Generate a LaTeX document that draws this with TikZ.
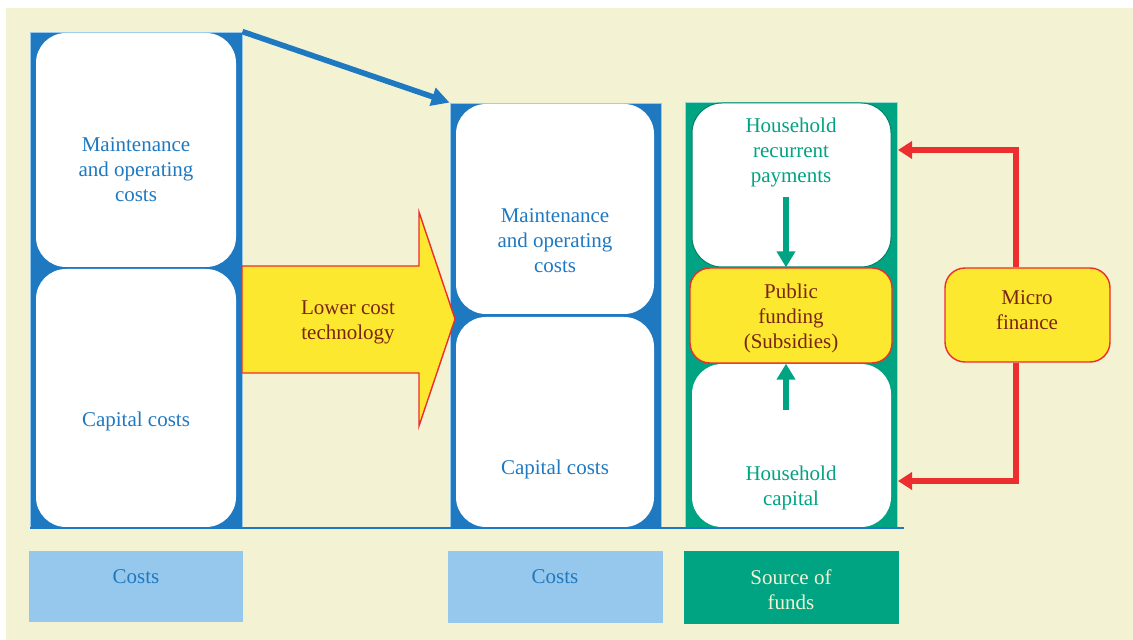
\documentclass[tikz,border=0pt]{standalone}
\usepackage{fontspec}
\setmainfont{Liberation Serif}
\usetikzlibrary{fit,arrows.meta,calc}
\definecolor{cream}{RGB}{243,243,212}
\definecolor{costblue}{RGB}{31,121,193}
\definecolor{paleblue}{RGB}{149,200,236}
\definecolor{fundgreen}{RGB}{0,163,130}
\definecolor{hiyellow}{RGB}{252,232,46}
\definecolor{hired}{RGB}{236,46,46}
\definecolor{darkbrown}{RGB}{122,36,22}

\tikzset{
	card/.style={inner sep=0pt, fill=white, rounded corners=15pt},
	yellowcard/.style={inner sep=0pt, fill=hiyellow, draw=hired, line width=0.7pt, rounded corners=10pt},
	bluetxt/.style={text=costblue, align=center, font=\fontsize{10.5}{12.5}\selectfont},
	greentxt/.style={text=fundgreen, align=center, font=\fontsize{10.5}{12.5}\selectfont},
	browntxt/.style={text=darkbrown, align=center, font=\fontsize{10.5}{12.5}\selectfont},
}

\begin{document}
\begin{tikzpicture}[x=0.5pt, y=-0.5pt]
			%%%%% START %%%%%
			\useasboundingbox (0, 0) rectangle (1133, 640);
			\fill[white] (0, 0) rectangle (1133, 640);
			\fill[cream] (6, 8) rectangle (1133, 640);
			
			% costs columns
			\node[fit={(30, 32) (242, 528)}, inner sep=0pt, fill=costblue, draw=paleblue, line width=0.4pt] (leftcol) {};
			\node[fit={(450, 103) (661, 528)}, inner sep=0pt, fill=costblue, draw=paleblue, line width=0.4pt] (midcol) {};
			\node[fit={(685, 102) (897, 528)}, inner sep=0pt, fill=fundgreen, draw=fundgreen!40, line width=0.4pt] (fundcol) {};
			
			\node[card, fit={(36, 33) (236, 267)}] (leftmaint) {};
			\node[card, fit={(36, 269) (236, 527)}] (leftcap) {};
			\node[card, fit={(456, 104) (654, 314)}] (midmaint) {};
			\node[card, fit={(456, 317) (654, 527)}] (midcap) {};
			\node[card, draw=fundgreen!80!black, line width=0.5pt, fit={(692, 103) (891, 267)}] (hhrec) {};
			\node[card, fit={(692, 364) (891, 527)}] (hhcap) {};
			\node[yellowcard, fit={(690, 268) (892, 363)}] (public) {};
			
			\node[bluetxt] (leftmainttxt) at (136, 170) {Maintenance\\and operating\\costs};
			\node[bluetxt] (leftcaptxt) at (136, 421) {Capital costs};
			\node[bluetxt] (midmainttxt) at (555, 241) {Maintenance\\and operating\\costs};
			\node[bluetxt] (midcaptxt) at (555, 469) {Capital costs};
			\node[greentxt] (hhrectxt) at (791, 152) {Household\\recurrent\\payments};
			\node[greentxt] (hhcaptxt) at (791, 488) {Household\\capital};
			\node[browntxt] (publictxt) at (791, 318) {Public\\funding\\(Subsidies)};
			
			\draw[costblue, line width=0.6pt] (30, 528) -- (904, 528);
			
			% lower cost arrow
			\draw[fill=hiyellow, draw=hired, line width=0.7pt, line join=miter] (242, 266) -- (419, 266) -- (419, 212) -- (455, 319) -- (419, 426) -- (419, 373) -- (242, 373) -- cycle;
			\node[browntxt] (lowertxt) at (348, 322) {Lower cost\\technology};
			
			\draw[costblue, line width=2.8pt, -{Triangle[length=9pt, width=9pt]}] (leftcol.north east) -- (midcol.north west);
			
			% flows into public funding
			\coordinate (downstart) at (786, 197);
			\coordinate (upstart) at (786, 410);
			\draw[fundgreen, line width=3pt, -{Triangle[length=8pt, width=9pt]}] (downstart) -- (public.north -| downstart);
			\draw[fundgreen, line width=3pt, -{Triangle[length=8pt, width=9pt]}] (upstart) -- (public.south -| upstart);
			
			% micro finance
			\node[yellowcard, fit={(945, 268) (1110, 362)}] (micro) {};
			\node[browntxt] (microtxt) at (1027, 310) {Micro\\finance};
			\coordinate (toprec) at (898, 150);
			\coordinate (botcap) at (898, 481);
			\draw[hired, line width=2.6pt, -{Triangle[length=7pt, width=8.5pt]}] (micro.north -| 1016, 0) |- (toprec);
			\draw[hired, line width=2.6pt, -{Triangle[length=7pt, width=8.5pt]}] (micro.south -| 1016, 0) |- (botcap);
			
			% legend boxes
			\node[fit={(29, 551) (243, 622)}, inner sep=0pt, fill=paleblue] (costkey) {};
			\node[fit={(448, 551) (663, 623)}, inner sep=0pt, fill=paleblue] (costkeymid) {};
			\node[fit={(684, 551) (899, 624)}, inner sep=0pt, fill=fundgreen] (fundkey) {};
			\node[bluetxt] (costkeytxt) at (136, 577) {Costs};
			\node[bluetxt] (costkeymidtxt) at (555, 577) {Costs};
			\node[align=center, text=cream, font=\fontsize{10.5}{12.5}\selectfont] (fundkeytxt) at (791, 590) {Source of\\funds};
			
			%%%%% END %%%%%
\end{tikzpicture}
\end{document}
